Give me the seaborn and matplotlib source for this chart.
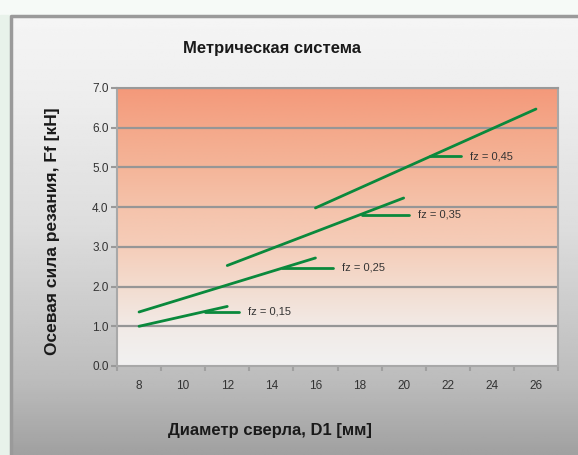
import numpy as np
import pandas as pd
import matplotlib
matplotlib.use("Agg")
import matplotlib.pyplot as plt
from matplotlib import font_manager
from matplotlib.colors import LinearSegmentedColormap
import seaborn as sns

# ---------------- data ----------------
fz_labels = ["fz = 0,15", "fz = 0,25", "fz = 0,35", "fz = 0,45"]
d_start = [8, 8, 12, 16]
d_end = [12, 16, 20, 26]
f_start = [1.0, 1.36, 2.53, 3.98]
f_end = [1.5, 2.72, 4.23, 6.47]
# label leader lines: from (lead_x0, lead_y) to (lead_x1, lead_y)
lead_x0 = [11.0, 14.5, 18.1, 21.2]
lead_x1 = [12.55, 16.8, 20.25, 22.6]
lead_y = [1.37, 2.47, 3.81, 5.28]
x_ticklabels = [8, 10, 12, 14, 16, 18, 20, 22, 24, 26]
y_ticklabels = [0.0, 1.0, 2.0, 3.0, 4.0, 5.0, 6.0, 7.0]

rows = []
for lab, x0, x1, y0, y1 in zip(fz_labels, d_start, d_end, f_start, f_end):
    rows.append({"fz": lab, "D": x0, "F": y0})
    rows.append({"fz": lab, "D": x1, "F": y1})
df = pd.DataFrame(rows)

# ---------------- style ----------------
sns.set_theme(style="white")
names = {f.name for f in font_manager.fontManager.ttflist}
narrow = "Liberation Sans Narrow" if "Liberation Sans Narrow" in names else "Liberation Sans"
plt.rcParams["font.family"] = [narrow, "DejaVu Sans"]

W, H = 578, 455
fig = plt.figure(figsize=(W / 100, H / 100), dpi=100)

# background
bg = fig.add_axes([0, 0, 1, 1], zorder=-10)
bg.set_xlim(0, W)
bg.set_ylim(H, 0)
bg.axis("off")
bg.add_patch(plt.Rectangle((0, 0), W, H, color="#f6faf7", zorder=0))
bg.add_patch(plt.Rectangle((0, 15), 10, H, color="#e8f2ea", zorder=0))
ys = np.linspace(15, H, 200)
stops_y = [15, 100, 230, 380, 455]
stops_v = [0.962, 0.93, 0.865, 0.74, 0.63]
vals = np.interp(ys, stops_y, stops_v)
grad = np.repeat(vals[:, None], 2, axis=1)
bg.imshow(grad, cmap="gray", vmin=0, vmax=1, extent=[10, W, H, 15],
          aspect="auto", zorder=1, interpolation="bilinear")
bg.plot([10.5, 10.5, W], [H, 15.5, 15.5], color="#9a9a9a", lw=2.5, zorder=2,
        solid_capstyle="butt")

# main axes
ax = fig.add_axes([117 / W, 1 - 366 / H, (558 - 117) / W, (366 - 88) / H])
cmap = LinearSegmentedColormap.from_list(
    "plotbg",
    [(0.0, "#f1f1f1"), (1 / 7, "#f2eae6"), (2 / 7, "#f3dccf"),
     (3 / 7, "#f5cdb9"), (4 / 7, "#f5c3ab"), (5 / 7, "#f4b599"),
     (6 / 7, "#f4a88a"), (1.0, "#f4997a")])
ax.imshow(np.linspace(0, 1, 256)[:, None], cmap=cmap, origin="lower",
          extent=[7, 27, 0, 7], aspect="auto", zorder=0, interpolation="bilinear")
for yv in y_ticklabels[1:]:
    ax.axhline(yv, color="#969696", lw=1.6, zorder=1)

green = "#0a893c"
sns.lineplot(data=df, x="D", y="F", units="fz", estimator=None, color=green,
             lw=2.0, legend=False, ax=ax, zorder=3)
for lab, x0, x1, yv in zip(fz_labels, lead_x0, lead_x1, lead_y):
    ax.plot([x0, x1], [yv, yv], color=green, lw=2.0, zorder=3)
    ax.text(x1 + 0.4, yv, lab, fontsize=8, color="#333333",
            va="center", ha="left", zorder=4)

ax.set_xlim(7, 27)
ax.set_ylim(0, 7)
ax.set_xlabel("")
ax.set_ylabel("")
ax.set_xticks(x_ticklabels)
ax.set_xticklabels([str(v) for v in x_ticklabels])
ax.set_xticks(np.arange(7, 28, 2), minor=True)
ax.set_yticks(y_ticklabels)
ax.set_yticklabels([f"{v:.1f}" for v in y_ticklabels])
ax.tick_params(axis="x", which="major", length=0, pad=10, labelsize=8.5,
               labelcolor="#333333")
ax.tick_params(axis="x", which="minor", length=3.5, width=1.5, color="#a0a0a0",
               bottom=True)
ax.tick_params(axis="y", which="major", length=4, width=1.5, color="#999999",
               pad=2, labelsize=8.5, labelcolor="#333333", left=True)
for s, sp in ax.spines.items():
    sp.set_visible(True)
    sp.set_color("#a8a8a8")
    sp.set_linewidth(1.5)
ax.spines["top"].set_color("#999999")

fig.text(272 / W, 1 - 48 / H, "Метрическая система", fontsize=12,
         fontweight="bold", color="#1a1a1a", ha="center", va="center")
fig.text(270 / W, 1 - 431 / H, "Диаметр сверла, D1 [мм]", fontsize=12,
         fontweight="bold", color="#1a1a1a", ha="center", va="center")
fig.text(53 / W, 1 - 231 / H, "Осевая сила резания, Ff [кН]", fontsize=12.5,
         fontweight="bold", color="#1a1a1a", ha="center", va="center",
         rotation=90)

fig.savefig("out.png", dpi=100)
